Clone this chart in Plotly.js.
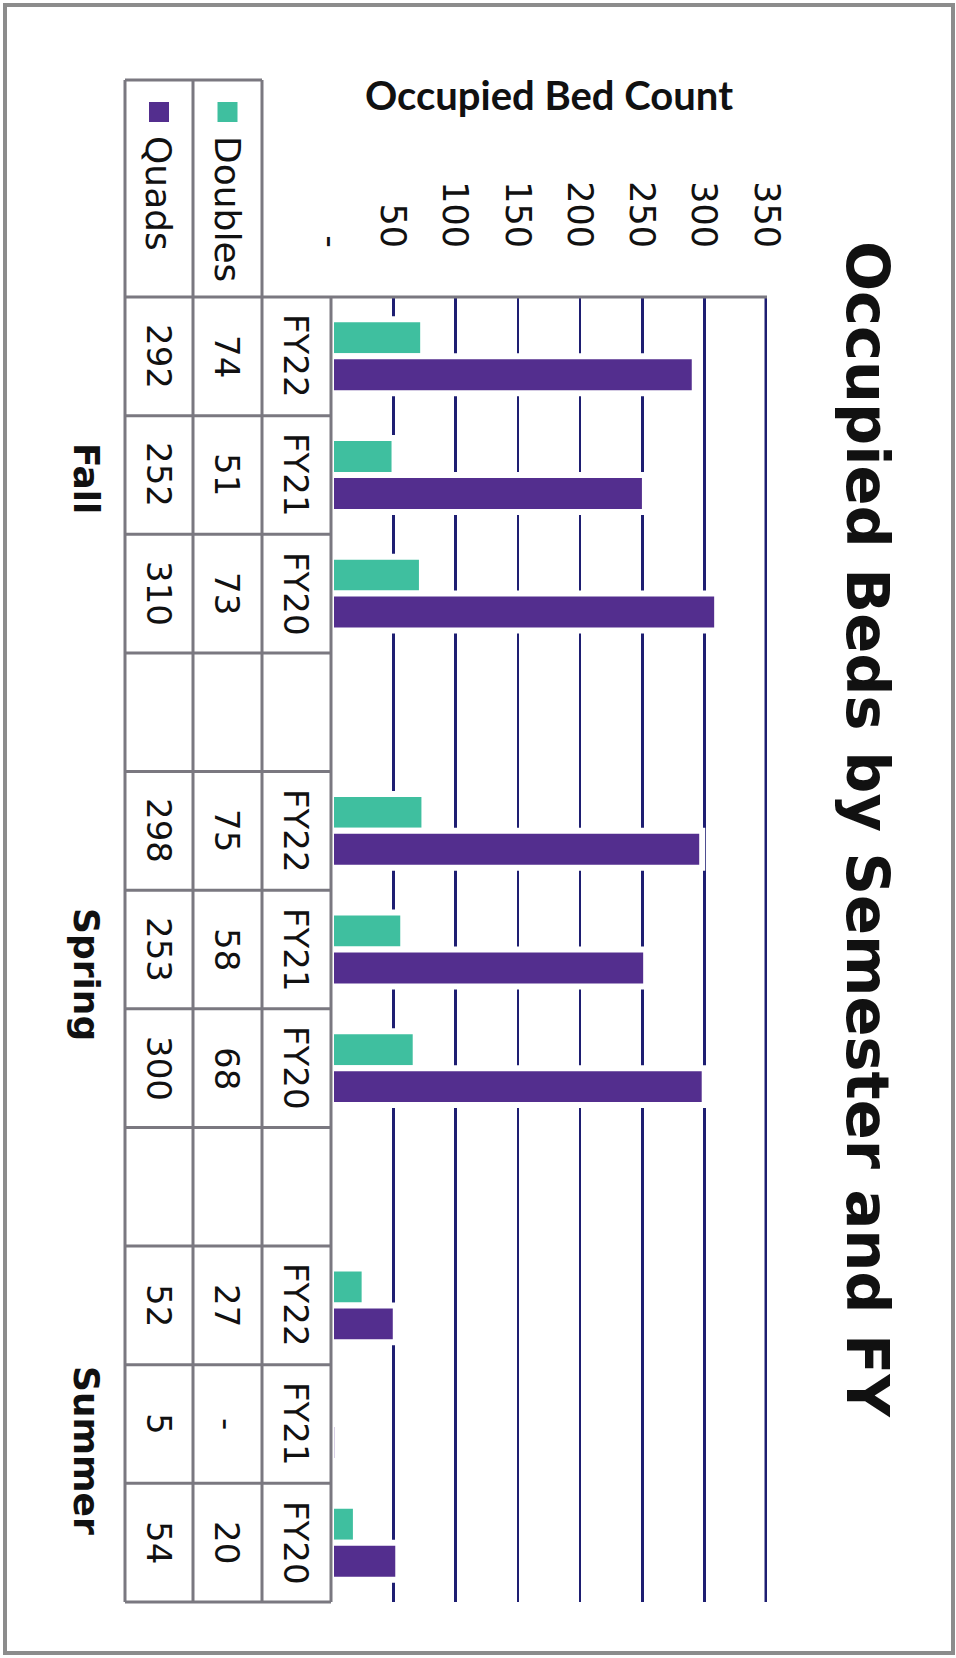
<!DOCTYPE html>
<html>
<head>
<meta charset="utf-8">
<script src="https://cdn.plot.ly/plotly-3.0.1.min.js"></script>
<style>
  html, body { margin: 0; padding: 0; width: 956px; height: 1658px; overflow: hidden; background: #ffffff; }
  #rot { position: absolute; left: 0; top: 0; width: 1658px; height: 956px;
         transform-origin: 0 0; transform: translate(956px, 0) rotate(90deg); }
  #chart { width: 1658px; height: 956px; }
</style>
</head>
<body>
<div id="rot"><div id="chart"></div></div>
<script>
// ---------------- data ----------------
const semesters = ['Fall', 'Spring', 'Summer'];
const fiscalYears = ['FY22', 'FY21', 'FY20'];
const seriesNames = ['Doubles', 'Quads'];
const doubles = [74, 51, 73, 75, 58, 68, 27, 0, 20];
const quads = [292, 252, 310, 298, 253, 300, 52, 5, 54];
const yTickVals = [0, 50, 100, 150, 200, 250, 300, 350];
const yTickText = ['-', '50', '100', '150', '200', '250', '300', '350'];
const chartTitle = 'Occupied Beds by Semester and FY';
const yAxisTitle = 'Occupied Bed Count';

// ---------------- styles / geometry (unrotated chart frame) ----------------
const W = 1658, H = 956;
const M = { l: 297, r: 56, t: 189, b: 331 };
const plotW = W - M.l - M.r, plotH = H - M.t - M.b;
const colDoubles = '#3fbf9f', colQuads = '#532e8e';
const gridCol = '#1e1e72', tableCol = '#7a7880', textCol = '#111111';
const rowEdgesPx = [625, 694, 763, 831];   // table row boundaries (pixels)
const headerLeftPx = 80;                    // left edge of the legend column
const groupLabelPx = 869;                   // vertical centre of semester labels
const groupLabelShift = [0.03, 0.21, 0.22]; // small nudge of semester labels (category units)
const px2x = px => (px - M.l) / plotW;
const py2y = py => (H - M.b - py) / plotH;

// ---------------- build categories ----------------
const cats = [], dY = [], qY = [], cells = [], groupCentres = [];
semesters.forEach((s, si) => {
  if (si > 0) { cats.push('gap' + si); dY.push(null); qY.push(null); }
  fiscalYears.forEach((fy, fi) => {
    const k = si * fiscalYears.length + fi;
    const name = s + ' ' + fy;
    if (fi === 1) groupCentres.push(cats.length);
    cats.push(name); dY.push(doubles[k]); qY.push(quads[k]);
    cells.push({ cat: name, fy: fy, d: doubles[k], q: quads[k] });
  });
});
const N = cats.length;
const fmt = v => (v === 0 ? '-' : String(v));
const yMax = yTickVals[yTickVals.length - 1];

const traces = [
  { type: 'bar', name: seriesNames[0], x: cats, y: dY,
    marker: { color: colDoubles, line: { color: '#ffffff', width: 6 } }, hoverinfo: 'skip' },
  { type: 'bar', name: seriesNames[1], x: cats, y: qY,
    marker: { color: colQuads, line: { color: '#ffffff', width: 6 } }, hoverinfo: 'skip' }
];

// ---------------- table lines ----------------
const shapes = [];
const line = (x0, y0, x1, y1, col, w) => shapes.push({
  type: 'line', xref: 'paper', yref: 'paper', x0, y0, x1, y1, layer: 'above',
  line: { color: col, width: w }
});
// outer frame of the chart
shapes.push({ type: 'rect', xref: 'paper', yref: 'paper', layer: 'above',
  x0: px2x(5), x1: px2x(1653), y0: py2y(951), y1: py2y(3),
  line: { color: '#8c8c8c', width: 4 } });
// top gridline (at the end of the value range, Plotly omits it; half of it is clipped)
shapes.push({ type: 'line', xref: 'paper', yref: 'y', x0: 0, x1: 1, y0: yMax, y1: yMax,
  layer: 'below', line: { color: gridCol, width: 5 } });
// plot left edge
line(0, 0, 0, 1, tableCol, 3);
// horizontal table rules
rowEdgesPx.forEach((py, i) => line(i === 0 ? 0 : px2x(headerLeftPx), py2y(py), 1, py2y(py), tableCol, 3));
// vertical table rules at category boundaries
for (let k = 0; k <= N; k++) line(k / N, py2y(rowEdgesPx[0]), k / N, py2y(rowEdgesPx[3]), tableCol, 3);
line(px2x(headerLeftPx), py2y(rowEdgesPx[1]), px2x(headerLeftPx), py2y(rowEdgesPx[3]), tableCol, 3);
// legend keys
[colDoubles, colQuads].forEach((c, i) => {
  const cy = (rowEdgesPx[i + 1] + rowEdgesPx[i + 2]) / 2;
  shapes.push({ type: 'rect', xref: 'paper', yref: 'paper', layer: 'above',
    x0: px2x(102), x1: px2x(122), y0: py2y(cy + 10), y1: py2y(cy - 10),
    fillcolor: c, line: { width: 0 } });
});

// ---------------- table text ----------------
const annotations = [];
const rowCentre = i => py2y((rowEdgesPx[i] + rowEdgesPx[i + 1]) / 2);
const cellFont = { family: 'DejaVu Sans', size: 34, color: textCol };
cells.forEach(c => {
  [c.fy, fmt(c.d), fmt(c.q)].forEach((t, r) => annotations.push({
    xref: 'x', yref: 'paper', x: c.cat, y: rowCentre(r), text: t, showarrow: false,
    xanchor: 'center', yanchor: 'middle', font: cellFont
  }));
});
seriesNames.forEach((n, i) => annotations.push({
  xref: 'paper', yref: 'paper', x: px2x(134), y: rowCentre(i + 1), text: n, showarrow: false,
  xanchor: 'left', yanchor: 'middle', font: { family: 'DejaVu Sans', size: 36, color: textCol }
}));
semesters.forEach((s, i) => annotations.push({
  xref: 'x', yref: 'paper', x: groupCentres[i] + groupLabelShift[i], y: py2y(groupLabelPx), text: s,
  showarrow: false, xanchor: 'center', yanchor: 'middle',
  font: { family: 'DejaVu Sans', size: 36, weight: 700, color: textCol }
}));

const layout = {
  width: W, height: H,
  margin: { l: M.l, r: M.r, t: M.t, b: M.b, pad: 0 },
  paper_bgcolor: '#ffffff', plot_bgcolor: '#ffffff',
  showlegend: false, barmode: 'group', bargap: 0.377, bargroupgap: 0,
  title: { text: chartTitle, x: 0.5, xref: 'container', xanchor: 'center',
           y: 1 - 88 / H, yref: 'container', yanchor: 'middle',
           font: { family: 'DejaVu Sans', size: 59, weight: 700, color: textCol } },
  xaxis: { type: 'category', categoryorder: 'array', categoryarray: cats, range: [-0.5, N - 0.5],
           showticklabels: false, showgrid: false, zeroline: false, showline: false, ticks: '', fixedrange: true },
  yaxis: { range: [0, yMax], tickmode: 'array', tickvals: yTickVals, ticktext: yTickText,
           showgrid: true, gridcolor: gridCol, gridwidth: 2.5, zeroline: false, showline: false,
           ticks: '', ticklabelstandoff: 48, automargin: false, fixedrange: true,
           tickfont: { family: 'DejaVu Sans', size: 35, color: textCol },
           title: { text: yAxisTitle, standoff: 58,
                    font: { family: 'Lato', size: 40, weight: 700, color: textCol } } },
  shapes: shapes, annotations: annotations
};

Plotly.newPlot('chart', traces, layout, { staticPlot: true, displayModeBar: false });
</script>
</body>
</html>
